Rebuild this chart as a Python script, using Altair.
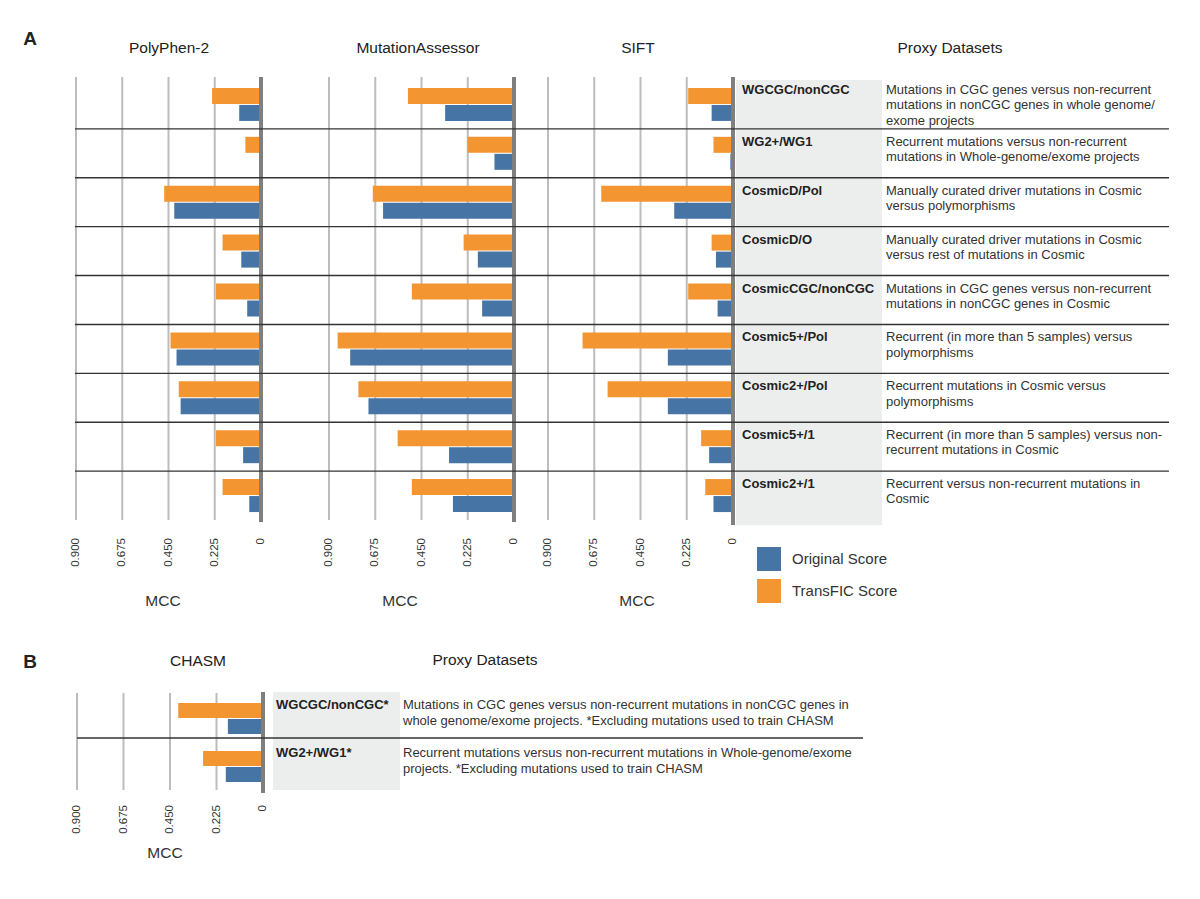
import altair as alt
import pandas as pd

# ---------------- data ----------------
datasets_a = ["WGCGC/nonCGC", "WG2+/WG1", "CosmicD/Pol", "CosmicD/O", "CosmicCGC/nonCGC",
              "Cosmic5+/Pol", "Cosmic2+/Pol", "Cosmic5+/1", "Cosmic2+/1"]
desc_a = [
    "Mutations in CGC genes versus non-recurrent\nmutations in nonCGC genes in whole genome/\nexome projects",
    "Recurrent mutations versus non-recurrent\nmutations in Whole-genome/exome projects",
    "Manually curated driver mutations in Cosmic\nversus polymorphisms",
    "Manually curated driver mutations in Cosmic\nversus rest of mutations in Cosmic",
    "Mutations in CGC genes versus non-recurrent\nmutations in nonCGC genes in Cosmic",
    "Recurrent (in more than 5 samples) versus\npolymorphisms",
    "Recurrent mutations in Cosmic versus\npolymorphisms",
    "Recurrent (in more than 5 samples) versus non-\nrecurrent mutations in Cosmic",
    "Recurrent versus non-recurrent mutations in\nCosmic",
]
polyphen_transfic = [0.238, 0.076, 0.471, 0.187, 0.219, 0.440, 0.400, 0.219, 0.187]
polyphen_original = [0.106, 0.006, 0.422, 0.096, 0.067, 0.411, 0.391, 0.087, 0.057]
ma_transfic = [0.516, 0.226, 0.687, 0.245, 0.497, 0.858, 0.757, 0.566, 0.497]
ma_original = [0.335, 0.095, 0.637, 0.176, 0.155, 0.797, 0.708, 0.316, 0.297]
sift_transfic = [0.218, 0.095, 0.641, 0.104, 0.218, 0.732, 0.610, 0.155, 0.135]
sift_original = [0.104, 0.013, 0.286, 0.083, 0.075, 0.317, 0.317, 0.116, 0.095]

datasets_b = ["WGCGC/nonCGC*", "WG2+/WG1*"]
desc_b = [
    "Mutations in CGC genes versus non-recurrent mutations in nonCGC genes in\nwhole genome/exome projects. *Excluding mutations used to train CHASM",
    "Recurrent mutations versus non-recurrent mutations in Whole-genome/exome\nprojects. *Excluding mutations used to train CHASM",
]
chasm_transfic = [0.41, 0.29]
chasm_original = [0.17, 0.18]

tick_values = [0, 0.225, 0.45, 0.675, 0.9]
tick_labels = ["0", "0.225", "0.450", "0.675", "0.900"]
series_names = ["Original Score", "TransFIC Score"]
series_colors = ["#4674a4", "#f39531"]

FONT = "Liberation Sans"


def long_df(datasets, transfic, original):
    rows = []
    for d, t, o in zip(datasets, transfic, original):
        rows.append({"dataset": d, "series": "TransFIC Score", "mcc": t})
        rows.append({"dataset": d, "series": "Original Score", "mcc": o})
    return pd.DataFrame(rows)


ticks_df = pd.DataFrame({"v": tick_values, "label": tick_labels})
zero_df = pd.DataFrame({"v": [0.0]})

color_scale = alt.Scale(domain=series_names, range=series_colors)
legend = alt.Legend(orient="none", legendX=749, legendY=539, title=None, symbolType="square",
                    symbolSize=576, symbolStrokeWidth=0, symbolOpacity=1, labelFontSize=15,
                    labelFont=FONT, labelColor="#333333", labelOffset=11, rowPadding=8, padding=0)


def P(v):
    return v - 8


def panel(df, datasets, xrange, yrange, grid_y, zero_y, tick_y, bar_h, off_t, off_o):
    xs = alt.Scale(domain=[0, 0.9], range=xrange, zero=False, nice=False)
    ys = alt.Scale(domain=datasets, range=yrange, paddingInner=0, paddingOuter=0)
    grid = alt.Chart(ticks_df).mark_rule(color="#bdbdbd", strokeWidth=2).encode(
        x=alt.X("v:Q", scale=xs, axis=None),
        y=alt.value(grid_y[0]), y2=alt.value(grid_y[1]))
    bars = []
    for s, off in (("TransFIC Score", off_t), ("Original Score", off_o)):
        bars.append(
            alt.Chart(df).transform_filter(alt.datum.series == s)
            .mark_bar(height=bar_h, yOffset=off)
            .encode(x=alt.X("mcc:Q", scale=xs, axis=None),
                    y=alt.Y("dataset:N", scale=ys, axis=None),
                    color=alt.Color("series:N", scale=color_scale, legend=legend))
        )
    zero = alt.Chart(zero_df).mark_rule(color="#7f7f7f", strokeWidth=4).encode(
        x=alt.X("v:Q", scale=xs, axis=None),
        y=alt.value(zero_y[0]), y2=alt.value(zero_y[1]))
    labels = alt.Chart(ticks_df).mark_text(angle=270, align="right", baseline="middle",
                                           font=FONT, fontSize=11.5, color="#333333").encode(
        x=alt.X("v:Q", scale=xs, axis=None), y=alt.value(tick_y), text="label:N")
    return [grid] + bars + [zero, labels]


def text(t, x, y, size=15.5, weight="normal", color="#222222", align="center"):
    return alt.Chart(zero_df).mark_text(text=t, font=FONT, fontSize=size, fontWeight=weight,
                                        color=color, align=align, baseline="middle").encode(
        x=alt.value(x), y=alt.value(y))


df_poly = long_df(datasets_a, polyphen_transfic, polyphen_original)
df_ma = long_df(datasets_a, ma_transfic, ma_original)
df_sift = long_df(datasets_a, sift_transfic, sift_original)
df_chasm = long_df(datasets_b, chasm_transfic, chasm_original)

yA = [P(80), P(520)]
yB = [P(690), P(786)]
ysA = alt.Scale(domain=datasets_a, range=yA, paddingInner=0, paddingOuter=0)
ysB = alt.Scale(domain=datasets_b, range=yB, paddingInner=0, paddingOuter=0)

layers = []

# grey label columns
layers.append(alt.Chart(zero_df).mark_rect(color="#eceeed").encode(
    x=alt.value(P(736)), x2=alt.value(P(882)), y=alt.value(P(80)), y2=alt.value(P(525))))
layers.append(alt.Chart(zero_df).mark_rect(color="#eceeed").encode(
    x=alt.value(P(273)), x2=alt.value(P(400)), y=alt.value(P(692)), y2=alt.value(P(790))))

# panels
layers += panel(df_poly, datasets_a, [P(261), P(76)], yA, (P(77), P(520)), (P(77), P(522)), P(538), 16, -8.5, 8.5)
layers += panel(df_ma, datasets_a, [P(514), P(329)], yA, (P(77), P(520)), (P(77), P(522)), P(538), 16, -8.5, 8.5)
layers += panel(df_sift, datasets_a, [P(733), P(548)], yA, (P(77), P(520)), (P(77), P(525)), P(538), 16, -8.5, 8.5)
layers += panel(df_chasm, datasets_b, [P(263), P(77)], yB, (P(693), P(790)), (P(692), P(793)), P(805), 15, -3.5, 12.5)

# row separators
sepA = pd.DataFrame({"dataset": datasets_a[:-1]})
layers.append(alt.Chart(sepA).mark_rule(color="#333333", strokeWidth=1.4).encode(
    y=alt.Y("dataset:N", scale=ysA, axis=None, bandPosition=1),
    x=alt.value(P(75)), x2=alt.value(P(1169))))
sepB = pd.DataFrame({"dataset": datasets_b[:-1]})
layers.append(alt.Chart(sepB).mark_rule(color="#333333", strokeWidth=1.4).encode(
    y=alt.Y("dataset:N", scale=ysB, axis=None, bandPosition=1),
    x=alt.value(P(77)), x2=alt.value(P(863))))

# dataset names and descriptions (text is placed at band centre; dy moves it to the row top)
labA = pd.DataFrame({"dataset": datasets_a, "desc": desc_a})
for cond, dy in ((alt.datum.dataset == datasets_a[0], -20.5), (alt.datum.dataset != datasets_a[0], -17.5)):
    layers.append(alt.Chart(labA).transform_filter(cond).mark_text(
        align="left", baseline="top", dy=dy, font=FONT, fontSize=13,
        fontWeight="bold", color="#222222").encode(
        y=alt.Y("dataset:N", scale=ysA, axis=None),
        x=alt.value(P(742)), text="dataset:N"))
    layers.append(alt.Chart(labA).transform_filter(cond).mark_text(
        align="left", baseline="top", dy=dy, font=FONT, fontSize=13,
        lineBreak="\n", lineHeight=15.3, color="#333333").encode(
        y=alt.Y("dataset:N", scale=ysA, axis=None),
        x=alt.value(P(886)), text="desc:N"))
labB = pd.DataFrame({"dataset": datasets_b, "desc": desc_b})
layers.append(alt.Chart(labB).mark_text(align="left", baseline="top", dy=-15, font=FONT, fontSize=13,
                                        fontWeight="bold", color="#222222").encode(
    y=alt.Y("dataset:N", scale=ysB, axis=None),
    x=alt.value(P(276)), text="dataset:N"))
layers.append(alt.Chart(labB).mark_text(align="left", baseline="top", dy=-15, font=FONT, fontSize=13,
                                        lineBreak="\n", lineHeight=16, color="#333333").encode(
    y=alt.Y("dataset:N", scale=ysB, axis=None),
    x=alt.value(P(403)), text="desc:N"))

# titles & labels
layers += [
    text("A", P(30), P(39), size=19, weight="bold"),
    text("B", P(30), P(662), size=19, weight="bold"),
    text("PolyPhen-2", P(169), P(48)),
    text("MutationAssessor", P(418), P(48)),
    text("SIFT", P(638), P(48)),
    text("Proxy Datasets", P(950), P(48)),
    text("CHASM", P(198), P(661)),
    text("Proxy Datasets", P(485), P(660)),
    text("MCC", P(163), P(601), color="#333333"),
    text("MCC", P(400), P(601), color="#333333"),
    text("MCC", P(637), P(601), color="#333333"),
    text("MCC", P(165), P(853), color="#333333"),
]

chart = alt.layer(*layers).resolve_scale(x="independent", y="independent").properties(
    width=1184, height=883, autosize=alt.AutoSizeParams(type="none"), padding=0
).configure_view(stroke=None)

chart.save("out.html", embed_options={"renderer": "svg", "actions": False})
